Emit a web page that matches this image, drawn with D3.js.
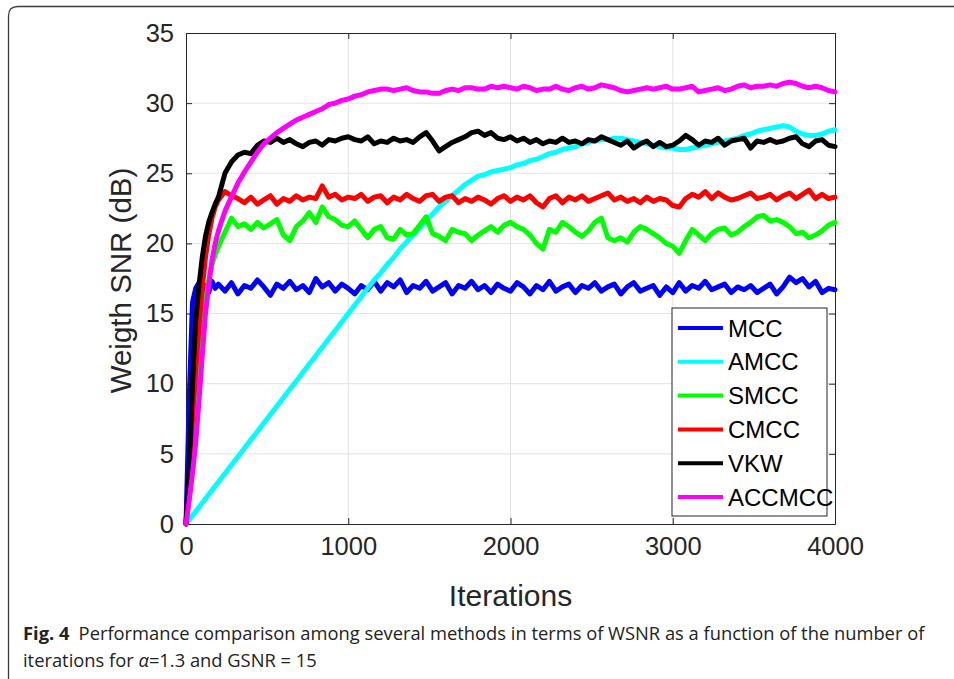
<!DOCTYPE html>
<html>
<head>
<meta charset="utf-8">
<script src="https://cdn.jsdelivr.net/npm/d3@7"></script>
<style>
  body { margin: 0; background: #fff; }
  svg { display: block; }
</style>
</head>
<body>
<div id="chart"></div>
<script>
var iterations = d3.range(0, 201, 20).concat(d3.range(240, 4001, 40));

var seriesNames = ["MCC", "AMCC", "SMCC", "CMCC", "VKW", "ACCMCC"];
var seriesColors = ["#0000ff", "#00ffff", "#00ff00", "#ff0000", "#000000", "#ff00ff"];

var xTicks = [0, 1000, 2000, 3000, 4000];
var yTicks = [0, 5, 10, 15, 20, 25, 30, 35];

var mcc = [0, 9, 15.8, 16.8, 17.2, 16.6, 17.0, 16.5, 17.3, 16.8, 17.1,
  16.6, 17.2, 16.4, 17.0, 16.8, 17.4, 16.9, 16.3, 17.1, 16.8,
  17.3, 16.7, 17.0, 16.5, 17.5, 16.9, 17.2, 16.6, 17.1, 16.8,
  16.4, 17.0, 16.7, 17.3, 16.6, 17.2, 16.9, 17.4, 16.5, 17.0,
  16.8, 17.3, 16.6, 16.9, 17.2, 16.4, 17.0, 16.8, 17.3, 16.7,
  17.0, 16.5, 17.1, 16.8, 16.6, 17.2, 16.9, 16.4, 17.0, 16.7,
  17.3, 16.6, 16.9, 17.1, 16.5, 17.0, 16.8, 17.2, 16.6, 16.9,
  17.1, 16.4, 16.9, 17.2, 16.6, 16.8, 17.0, 16.3, 16.9, 16.5,
  17.2, 16.6, 17.0, 16.8, 17.3, 16.7, 16.9, 17.1, 16.5, 16.9,
  16.7, 17.0, 16.5, 16.8, 17.1, 16.4, 16.9, 17.6, 17.2, 17.5,
  16.9, 17.3, 16.5, 16.8, 16.7];

var amcc = [0, 0.3, 0.6, 0.9, 1.2, 1.5, 1.8, 2.1, 2.4, 2.7, 3.0,
  3.6, 4.2, 4.8, 5.4, 6.0, 6.6, 7.2, 7.8, 8.4, 9.0,
  9.6, 10.2, 10.8, 11.4, 12.0, 12.6, 13.2, 13.8, 14.4, 15.0,
  15.6, 16.2, 16.8, 17.4, 17.9, 18.5, 19.0, 19.6, 20.1, 20.6,
  21.1, 21.6, 22.1, 22.6, 23.0, 23.4, 23.8, 24.2, 24.5, 24.8,
  24.9, 25.1, 25.2, 25.3, 25.4, 25.6, 25.7, 25.9, 26.0, 26.2,
  26.4, 26.5, 26.7, 26.8, 26.9, 27.1, 27.2, 27.3, 27.4, 27.4,
  27.5, 27.5, 27.4, 27.3, 27.2, 27.1, 27.0, 26.9, 26.8, 26.8,
  26.7, 26.7, 26.8, 26.9, 27.0, 27.1, 27.2, 27.3, 27.4, 27.5,
  27.7, 27.8, 28.0, 28.1, 28.2, 28.3, 28.4, 28.3, 28.0, 27.8,
  27.7, 27.7, 27.8, 28.0, 28.1];

var smcc = [0, 3, 6.5, 9.5, 12, 14.2, 16, 17.4, 18.5, 19.2, 19.8,
  20.8, 21.8, 21.2, 21.4, 21.0, 21.5, 21.1, 21.4, 21.7, 20.6,
  20.2, 21.2, 21.6, 22.2, 21.5, 22.6, 21.9, 21.7, 21.3, 21.2,
  21.6, 21.0, 20.4, 21.0, 21.2, 20.4, 20.3, 21.0, 20.6, 20.7,
  21.3, 21.9, 20.7, 20.5, 20.2, 21.0, 20.8, 20.7, 20.2, 20.6,
  20.9, 21.2, 20.8, 21.3, 21.5, 21.2, 21.0, 20.6, 20.0, 19.6,
  21.0, 20.8, 21.5, 21.2, 20.8, 20.5, 20.9, 21.5, 21.8, 20.4,
  20.2, 20.4, 20.1, 20.8, 21.2, 21.0, 20.7, 20.4, 20.0, 19.8,
  19.3, 20.2, 21.0, 20.6, 20.2, 20.7, 21.0, 21.1, 20.6, 20.8,
  21.2, 21.5, 21.9, 22.0, 21.6, 21.7, 21.5, 21.2, 20.7, 20.8,
  20.4, 20.6, 20.9, 21.3, 21.5];

var cmcc = [0, 3.5, 7.5, 11, 14, 16.8, 19.0, 20.6, 21.8, 22.6, 23.1,
  23.7, 23.4, 23.2, 22.9, 23.3, 22.8, 23.1, 23.4, 22.8, 23.2,
  23.0, 23.4, 23.1, 23.3, 23.2, 24.1, 23.3, 23.5, 23.1, 23.3,
  23.2, 23.5, 23.0, 23.3, 23.4, 22.9, 23.3, 23.1, 23.5, 23.2,
  23.0, 23.4, 23.5, 23.0, 23.3, 23.4, 22.9, 23.2, 23.0, 23.3,
  23.1, 22.8, 23.2, 23.4, 23.0, 23.3, 23.1, 23.4, 22.9, 22.6,
  23.2, 23.4, 22.9, 23.3, 23.1, 23.4, 23.0, 23.2, 23.4, 23.6,
  23.1, 23.3, 23.0, 23.2, 22.9, 23.3, 23.0, 23.2, 23.1, 22.7,
  22.6, 23.2, 23.5, 23.3, 23.7, 23.2, 23.6, 23.3, 23.1, 23.2,
  23.4, 23.6, 23.2, 23.3, 23.5, 23.1, 23.4, 23.6, 23.2, 23.5,
  23.8, 23.2, 23.5, 23.2, 23.3];

var vkw = [0, 4, 10, 14.5, 17, 19, 20.5, 21.5, 22.2, 22.8, 23.3,
  25.0, 25.8, 26.3, 26.5, 26.4, 27.0, 27.3, 27.2, 27.5, 27.2,
  27.4, 27.1, 26.9, 27.2, 27.3, 27.0, 27.4, 27.3, 27.5, 27.6,
  27.4, 27.3, 27.6, 27.1, 27.3, 27.2, 27.5, 27.3, 27.4, 27.2,
  27.6, 27.9, 27.3, 26.6, 26.9, 27.2, 27.4, 27.6, 27.9, 28.0,
  27.7, 27.9, 27.5, 27.4, 27.6, 27.3, 27.5, 27.2, 27.4, 27.1,
  27.3, 27.2, 27.5, 27.2, 27.3, 27.1, 27.4, 27.3, 27.6, 27.4,
  27.2, 27.0, 27.3, 26.8, 27.1, 27.3, 26.9, 27.2, 26.9, 27.0,
  27.3, 27.7, 27.4, 27.0, 27.3, 27.2, 27.5, 27.0, 27.3, 27.4,
  27.5, 26.8, 27.3, 27.2, 27.4, 27.2, 27.3, 27.5, 27.6, 27.1,
  26.9, 27.3, 27.4, 27.0, 26.9];

var accmcc = [0, 1.7, 3.6, 5.8, 8.8, 12.0, 15.0, 17.0, 18.8, 20.0, 20.9,
  22.3, 23.3, 24.3, 25.1, 25.8, 26.5, 27.1, 27.5, 27.9, 28.2,
  28.5, 28.8, 29.0, 29.2, 29.4, 29.6, 29.9, 30.0, 30.2, 30.3,
  30.5, 30.6, 30.8, 30.9, 31.0, 31.0, 30.9, 31.0, 31.1, 30.9,
  30.8, 30.8, 30.7, 30.7, 30.9, 31.0, 30.9, 31.1, 31.1, 31.0,
  31.0, 31.2, 31.1, 31.2, 31.1, 31.0, 31.2, 31.1, 30.9, 31.0,
  31.0, 31.2, 31.0, 30.9, 31.1, 31.2, 31.0, 31.1, 31.3, 31.2,
  31.1, 30.9, 30.8, 30.9, 31.0, 31.1, 31.0, 31.1, 31.2, 31.0,
  31.0, 31.1, 31.2, 30.8, 30.9, 31.0, 31.1, 30.9, 31.0, 31.2,
  31.3, 31.1, 31.2, 31.2, 31.3, 31.2, 31.4, 31.5, 31.4, 31.2,
  31.1, 31.2, 31.1, 30.9, 30.8];

var seriesValues = [mcc, amcc, smcc, cmcc, vkw, accmcc];

var W = 954, H = 679;
var plot = { left: 186, right: 835, top: 33, bottom: 524 };
var axisColor = "#262626";
var font = "'Liberation Sans', Arial, Helvetica, sans-serif";

var svg = d3.select("#chart")
  .append("svg")
    .attr("width", W)
    .attr("height", H);

// Figure frame (cropped at right and bottom, rounded top-left corner)
svg.append("path")
  .attr("d", "M8.5," + (H + 2) + " L8.5,16 Q8.5,6.5 18,6.5 L" + (W + 2) + ",6.5")
  .attr("fill", "none")
  .attr("stroke", "#3a3a3a")
  .attr("stroke-width", 1.3);

var x = d3.scaleLinear().domain([0, 4000]).range([plot.left, plot.right]);
var y = d3.scaleLinear().domain([0, 35]).range([plot.bottom, plot.top]);

// Grid
svg.append("g")
  .selectAll("line")
  .data(xTicks.slice(1, -1))
  .enter().append("line")
    .attr("x1", d => x(d)).attr("x2", d => x(d))
    .attr("y1", plot.top).attr("y2", plot.bottom)
    .attr("stroke", "#e3e3e3").attr("stroke-width", 1);

svg.append("g")
  .selectAll("line")
  .data(yTicks.slice(1, -1))
  .enter().append("line")
    .attr("x1", plot.left).attr("x2", plot.right)
    .attr("y1", d => y(d)).attr("y2", d => y(d))
    .attr("stroke", "#e3e3e3").attr("stroke-width", 1);

// Axes (ticks point inward)
function styleAxis(g) {
  g.selectAll("path").attr("stroke", axisColor).attr("stroke-width", 1);
  g.selectAll("line").attr("stroke", axisColor).attr("stroke-width", 1);
  g.selectAll("text").attr("fill", axisColor).style("font-family", font).style("font-size", "25.5px");
}

svg.append("g")
  .attr("transform", "translate(0," + plot.bottom + ")")
  .call(d3.axisBottom(x).tickValues(xTicks).tickFormat(d3.format("d")).tickSizeInner(-6).tickSizeOuter(0).tickPadding(13))
  .call(styleAxis);

svg.append("g")
  .attr("transform", "translate(" + plot.left + ",0)")
  .call(d3.axisLeft(y).tickValues(yTicks).tickSizeInner(-6).tickSizeOuter(0).tickPadding(12))
  .call(styleAxis);

svg.append("g")
  .attr("transform", "translate(0," + plot.top + ")")
  .call(d3.axisTop(x).tickValues(xTicks).tickFormat("").tickSizeInner(-6).tickSizeOuter(0))
  .call(styleAxis);

svg.append("g")
  .attr("transform", "translate(" + plot.right + ",0)")
  .call(d3.axisRight(y).tickValues(yTicks).tickFormat("").tickSizeInner(-6).tickSizeOuter(0))
  .call(styleAxis);

// Curves
var line = d3.line()
  .x((d, i) => x(iterations[i]))
  .y(d => y(d));

svg.append("g")
  .selectAll("path")
  .data(seriesValues)
  .enter().append("path")
    .attr("d", d => line(d))
    .attr("fill", "none")
    .attr("stroke", (d, i) => seriesColors[i])
    .attr("stroke-width", 5)
    .attr("stroke-linejoin", "round")
    .attr("stroke-linecap", "round");

// Axis labels
svg.append("text")
  .attr("x", (plot.left + plot.right) / 2)
  .attr("y", 606)
  .attr("text-anchor", "middle")
  .attr("fill", axisColor)
  .style("font-family", font)
  .style("font-size", "30px")
  .text("Iterations");

svg.append("text")
  .attr("transform", "translate(131," + ((plot.top + plot.bottom) / 2 + 2) + ") rotate(-90)")
  .attr("text-anchor", "middle")
  .attr("fill", axisColor)
  .style("font-family", font)
  .style("font-size", "29.5px")
  .text("Weigth SNR (dB)");

// Legend
var legend = svg.append("g").attr("transform", "translate(672,308)");
legend.append("rect")
  .attr("width", 155).attr("height", 208)
  .attr("fill", "#fff")
  .attr("stroke", axisColor).attr("stroke-width", 1);

var items = legend.selectAll("g.item")
  .data(seriesNames)
  .enter().append("g")
    .attr("class", "item")
    .attr("transform", (d, i) => "translate(0," + (20 + i * 33.8) + ")");

items.append("line")
  .attr("x1", 6).attr("x2", 51)
  .attr("stroke", (d, i) => seriesColors[i])
  .attr("stroke-width", 4);

items.append("text")
  .attr("x", 56).attr("y", 8.5)
  .attr("fill", "#000")
  .style("font-family", font)
  .style("font-size", "24px")
  .text(d => d);

// Caption
var capFont = "'Open Sans', 'Noto Sans', sans-serif";
var cap1 = svg.append("text")
  .attr("x", 23).attr("y", 640)
  .attr("fill", "#222")
  .style("font-family", capFont)
  .style("font-size", "18.5px");
cap1.append("tspan").style("font-weight", "bold").text("Fig. 4");
cap1.append("tspan").text("\u2002Performance comparison among several methods in terms of WSNR as a function of the number of");

var cap2 = svg.append("text")
  .attr("x", 23).attr("y", 667)
  .attr("fill", "#222")
  .style("font-family", capFont)
  .style("font-size", "18.5px");
cap2.append("tspan").text("iterations for ");
cap2.append("tspan").style("font-style", "italic").text("\u03b1");
cap2.append("tspan").text("=1.3 and GSNR = 15");

// squeeze the caption to the width used in the figure
var w1 = cap1.node().getComputedTextLength();
var k = 902 / w1;
cap1.attr("transform", "translate(23,0) scale(" + k + ",1) translate(-23,0)");
cap2.attr("transform", "translate(23,0) scale(" + k + ",1) translate(-23,0)");
</script>
</body>
</html>
